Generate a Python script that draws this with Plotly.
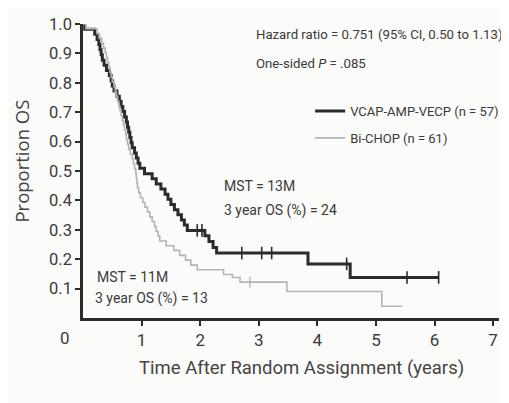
import plotly.graph_objects as go

# ---- data ----
vcap_t = [0.00, 0.03, 0.20, 0.24, 0.27, 0.29, 0.31, 0.33, 0.36, 0.40, 0.45, 0.48, 0.50, 0.53,
          0.58, 0.62, 0.65, 0.68, 0.71, 0.74, 0.76, 0.78, 0.80, 0.82, 0.84, 0.88, 0.91, 0.94,
          0.97, 1.05, 1.18, 1.25, 1.33, 1.40, 1.45, 1.50, 1.56, 1.62, 1.68, 1.73, 1.78, 2.08,
          2.15, 2.22, 2.28, 3.84, 4.56, 6.07]
vcap_s = [1.000, 0.982, 0.965, 0.947, 0.930, 0.912, 0.895, 0.877, 0.860, 0.842, 0.825, 0.807,
          0.789, 0.772, 0.754, 0.737, 0.719, 0.702, 0.684, 0.667, 0.649, 0.632, 0.614, 0.596,
          0.579, 0.561, 0.544, 0.526, 0.509, 0.491, 0.474, 0.456, 0.439, 0.421, 0.404, 0.386,
          0.368, 0.351, 0.333, 0.316, 0.298, 0.280, 0.260, 0.240, 0.221, 0.184, 0.138, 0.138]
vcap_censor_t = [1.95, 2.03, 2.71, 3.05, 3.22, 4.50, 5.53, 6.07]

bichop_t = [0.00, 0.05, 0.24, 0.28, 0.32, 0.35, 0.38, 0.40, 0.42, 0.44, 0.46, 0.48, 0.50, 0.53,
            0.55, 0.57, 0.59, 0.61, 0.63, 0.65, 0.67, 0.69, 0.71, 0.73, 0.74, 0.76, 0.78, 0.81,
            0.84, 0.86, 0.88, 0.90, 0.91, 0.92, 0.93, 0.95, 0.98, 1.02, 1.06, 1.10, 1.14, 1.18,
            1.22, 1.25, 1.28, 1.31, 1.42, 1.55, 1.65, 1.75, 1.84, 1.95, 2.40, 2.55, 2.68, 3.48,
            5.10, 5.45]
bichop_s = [1.000, 0.984, 0.967, 0.951, 0.934, 0.918, 0.902, 0.885, 0.869, 0.852, 0.836, 0.820,
            0.803, 0.787, 0.770, 0.754, 0.738, 0.721, 0.705, 0.689, 0.672, 0.656, 0.639, 0.623,
            0.607, 0.590, 0.574, 0.557, 0.541, 0.525, 0.508, 0.492, 0.475, 0.459, 0.443, 0.426,
            0.410, 0.393, 0.377, 0.361, 0.344, 0.328, 0.311, 0.295, 0.279, 0.262, 0.246, 0.230,
            0.213, 0.197, 0.180, 0.164, 0.148, 0.138, 0.122, 0.090, 0.040, 0.040]
bichop_censor_t = [2.85]

x_tick_vals = [1, 2, 3, 4, 5, 6, 7]
x_tick_text = ["1", "2", "3", "4", "5", "6", "7"]
y_tick_vals = [0.1, 0.2, 0.3, 0.4, 0.5, 0.6, 0.7, 0.8, 0.9, 1.0]
y_tick_text = ["0.1", "0.2", "0.3", "0.4", "0.5", "0.6", "0.7", "0.8", "0.9", "1.0"]

name_vcap = "VCAP-AMP-VECP (n = 57)"
name_bichop = "Bi-CHOP (n = 61)"


def step_value(ts, ss, t):
    v = ss[0]
    for ti, si in zip(ts, ss):
        if ti <= t:
            v = si
    return v


NARROW = "Roboto, Liberation Sans Narrow, sans-serif"
DARK = "#2b2b2b"
LIGHT = "#b4b4b4"
TXT = "#3a3a3a"

fig = go.Figure()
fig.add_trace(go.Scatter(x=vcap_t, y=vcap_s, mode="lines", line=dict(shape="hv", color=DARK, width=3),
                         name=name_vcap, legendgroup="a", cliponaxis=False))
fig.add_trace(go.Scatter(x=bichop_t, y=bichop_s, mode="lines", line=dict(shape="hv", color=LIGHT, width=1.6),
                         name=name_bichop, legendgroup="b", cliponaxis=False))
fig.add_trace(go.Scatter(x=vcap_censor_t, y=[step_value(vcap_t, vcap_s, t) for t in vcap_censor_t],
                         mode="markers", showlegend=False, cliponaxis=False, legendgroup="a",
                         marker=dict(symbol="line-ns", size=9, line=dict(color=DARK, width=1.6))))
fig.add_trace(go.Scatter(x=bichop_censor_t, y=[step_value(bichop_t, bichop_s, t) for t in bichop_censor_t],
                         mode="markers", showlegend=False, cliponaxis=False, legendgroup="b",
                         marker=dict(symbol="line-ns", size=8, line=dict(color=LIGHT, width=1.3))))

ann_font = dict(family=NARROW, size=14, color=TXT)
small_font = dict(family=NARROW, size=13.2, color=TXT)
annotations = [
    dict(x=2.92, y=0.963, text="Hazard ratio = 0.751 (95% CI, 0.50 to 1.13)", font=small_font),
    dict(x=2.92, y=0.867, text="One-sided <i>P</i> = .085", font=small_font),
    dict(x=2.37, y=0.449, text="MST = 13M", font=ann_font),
    dict(x=2.37, y=0.367, text="3 year OS (%) = 24", font=ann_font),
    dict(x=0.20, y=0.139, text="MST = 11M", font=ann_font),
    dict(x=0.17, y=0.068, text="3 year OS (%) = 13", font=ann_font),
]
for a in annotations:
    a.update(xref="x", yref="y", xanchor="left", yanchor="middle", showarrow=False)

annotations += [
    dict(xref="paper", yref="paper", x=-0.043, y=-0.068, text="0", showarrow=False,
         xanchor="center", yanchor="middle", font=dict(family=NARROW, size=17, color=TXT)),
    dict(xref="paper", yref="paper", x=0.526, y=-0.170, text="Time After Random Assignment (years)",
         showarrow=False, xanchor="center", yanchor="middle", font=dict(family=NARROW, size=18.5, color="#444")),
    dict(xref="paper", yref="paper", x=-0.147, y=0.535, text="Proportion OS", textangle=-90,
         showarrow=False, xanchor="center", yanchor="middle", font=dict(family="Open Sans, Noto Sans, sans-serif", size=18.5, color="#444")),
]

# the page body adds an 8px offset, so the figure is drawn 8px smaller with margins shifted
fig.update_layout(
    width=501, height=395,
    margin=dict(l=75, r=10, t=16, b=85, autoexpand=False),
    paper_bgcolor="#fbfbf9", plot_bgcolor="#fbfbf9",
    showlegend=True,
    legend=dict(x=0.546, y=0.755, xanchor="left", yanchor="top", bgcolor="rgba(0,0,0,0)",
                font=dict(family=NARROW, size=13, color=TXT), tracegroupgap=7, itemwidth=30),
    annotations=annotations,
    xaxis=dict(range=[0, 7.1], tickvals=x_tick_vals, ticktext=x_tick_text, showgrid=False, zeroline=False,
               showline=True, linecolor=DARK, linewidth=2.5, ticks="outside", ticklen=5, tickwidth=1.5,
               tickcolor=DARK, tickfont=dict(family=NARROW, size=17, color=TXT)),
    yaxis=dict(range=[0, 1.0], tickvals=y_tick_vals, ticktext=y_tick_text, showgrid=False, zeroline=False,
               showline=True, linecolor=DARK, linewidth=2.5, ticks="outside", ticklen=5, tickwidth=1.5,
               tickcolor=DARK, tickfont=dict(family=NARROW, size=16.5, color=TXT)),
)

fig.write_html("out.html")
